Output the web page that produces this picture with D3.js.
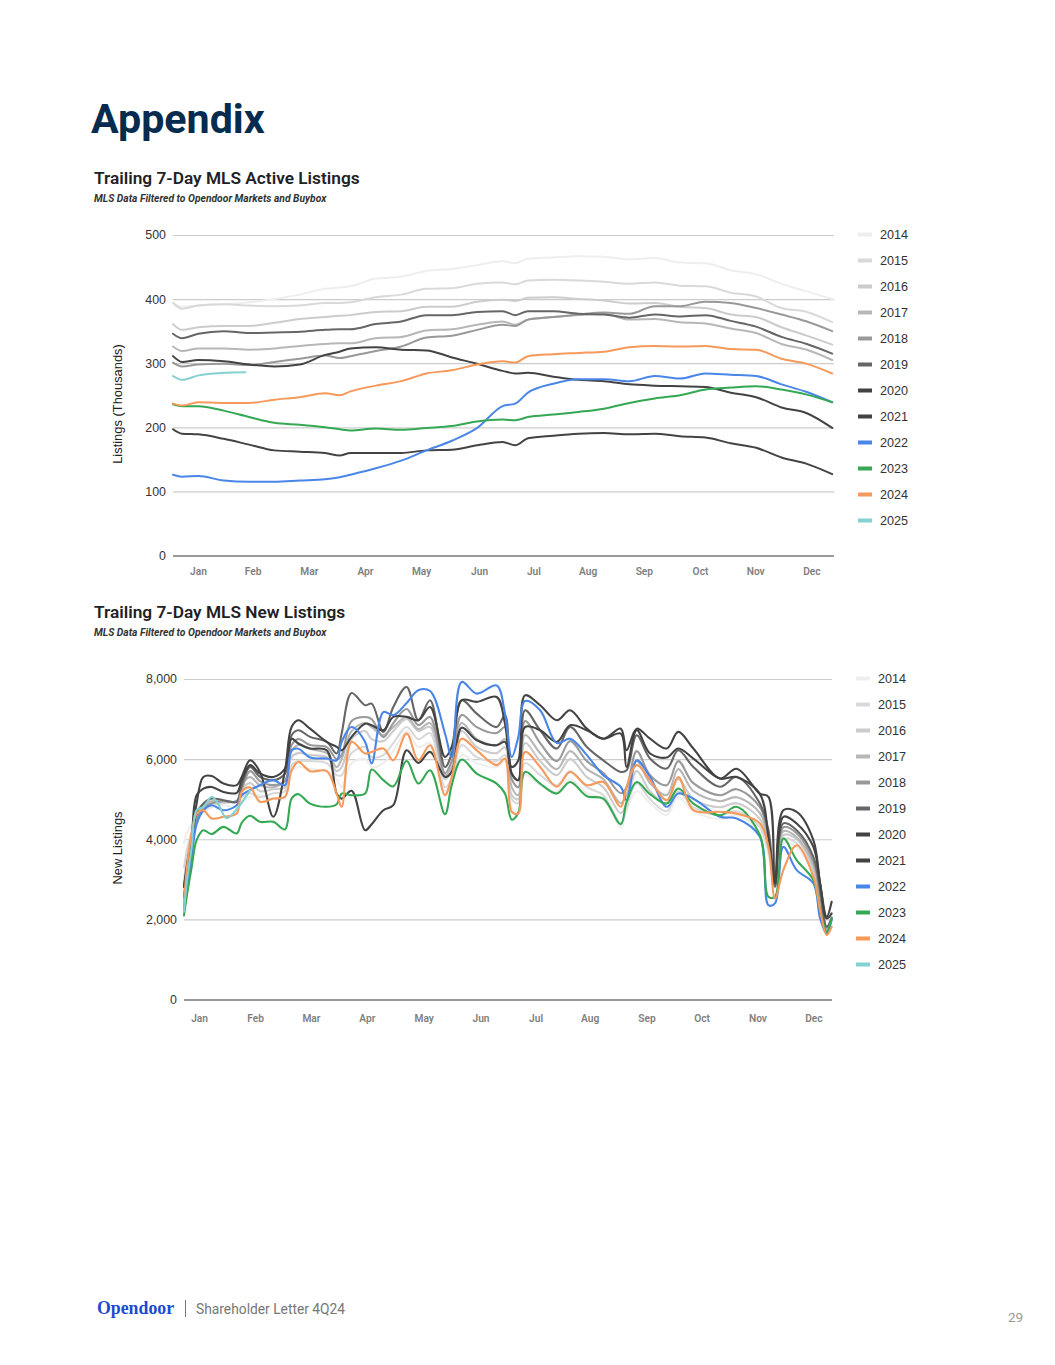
<!DOCTYPE html>
<html><head><meta charset="utf-8">
<script src="https://cdn.jsdelivr.net/npm/d3@7"></script>
<style>
html,body{margin:0;padding:0;background:#fff}
svg{display:block;font-family:Roboto,sans-serif}
</style></head><body>
<svg id="page" width="1055" height="1365"></svg>
<script>
const years = ["2014","2015","2016","2017","2018","2019","2020","2021","2022","2023","2024","2025"];
const yearColors = ["#eeeeee","#d9d9d9","#cccccc","#b7b7b7","#999999","#666666","#434343","#434343","#4a86e8","#34a853","#f6995a","#85d0d0"];
const monthLabels = ["Jan","Feb","Mar","Apr","May","Jun","Jul","Aug","Sep","Oct","Nov","Dec"];
const monthDays1 = [13.8,44,75,106,137,169,199,229,260,291,321.5,352.5];
const monthDays2 = [8.5,40,71.5,103,135,167,198,228.5,260.5,291.5,323,354.5];

const activeTicks = [0,100,200,300,400,500];
const newTicks = [0,2000,4000,6000,8000];

const activeDays = [0,5,14,28,42,56,70,84,92,98,112,126,140,154,168,182,189,196,210,224,238,252,266,280,294,308,322,336,350,364];
const active2014 = [394,388,390,392,395,400,407,416,418,420,432,435,444,447,453,459,456,463,465,467,466,462,464,457,456,445,439,424,412,400];
const active2015 = [394,385,390,392,390,389,390,394,394,395,403,407,416,417,424,426,423,429,430,429,427,424,426,421,420,410,404,386,380,364];
const active2016 = [361,352,356,358,358,363,369,372,374,375,380,381,388,388,396,399,397,402,403,400,398,393,394,388,386,376,372,356,343,329];
const active2017 = [326,319,323,323,321,323,327,330,331,331,339,341,351,353,360,365,360,368,372,375,377,368,369,364,362,354,347,330,321,305];
const active2018 = [301,295,298,299,297,302,307,312,308,311,319,326,340,343,352,360,358,368,372,376,379,377,389,389,396,394,386,376,365,350];
const active2019 = [346,339,346,350,347,348,349,352,353,353,361,365,375,375,380,381,375,381,381,377,376,371,376,373,375,366,357,341,330,315];
const active2020 = [311,302,305,303,298,295,298,313,318,323,325,321,320,309,299,288,284,285,279,274,272,267,265,264,263,254,247,231,222,199];
const active2021 = [197,190,189,182,173,164,162,160,156,160,160,160,164,165,172,177,172,183,187,190,191,189,190,186,184,175,168,153,143,127];
const active2022 = [126,123,124,117,115,115,117,119,122,126,136,148,164,179,199,233,237,254,268,275,275,272,280,276,284,282,280,267,255,239];
const active2023 = [236,233,233,226,216,207,204,200,197,195,198,196,199,202,209,212,211,216,220,224,229,238,245,250,259,262,264,259,251,239];
const active2024 = [237,234,239,238,238,243,247,253,250,256,265,272,284,289,298,303,301,311,314,316,318,325,327,326,327,322,321,307,299,284];
const active2025Days = [0,5,14,28,40];
const active2025 = [280,274,281,285,286];

const newDays = [0,1.5,4.3,7.1,10.9,15.6,22.2,29.7,32.5,37.2,
 42.8,50.3,56.9,60.6,64.4,71,80.4,86,88.8,94.4,
 102,105.7,112.3,117.9,125.4,132,138.6,147,150.8,156.4,
 164.9,176.1,180.8,184.6,188.3,192.1,200.6,210,217.5,226.9,
 236.2,246,249.3,255,262.5,271.9,278.4,286.9,301.9,311.3,
 324.4,329.2,332.9,337.6,345.1,354.5,358.3,362,364.8];
const new2014 = [3900,4150,4350,4500,4650,4800,4850,4800,4950,5050,5100,5000,5050,5700,5800,5750,5700,5500,5300,5900,6000,5800,5900,6200,6700,6300,6400,5200,5500,6100,5900,5800,5950,4800,4650,5600,5350,5200,5500,5150,5000,4300,4700,5200,4900,4600,5050,4700,4500,4600,4200,3600,2800,3900,3800,3100,2300,1700,2000];
const new2015 = [3300,3700,4200,4500,4700,4850,4900,4950,5050,5150,5050,5150,5200,5850,5950,5950,5900,5600,5600,6150,6300,6050,6100,6400,6800,6500,6650,5300,5500,6350,6050,5950,6100,5000,4900,5900,5600,5350,5700,5300,5100,4400,4800,5400,5000,4700,5200,4800,4600,4700,4300,3700,2900,4000,3900,3150,2400,1750,2050];
const new2016 = [2900,3500,4100,4550,4800,4900,4950,4950,5250,5400,5200,5250,5300,6050,6150,6100,6050,5700,5800,6500,6700,6500,6450,6700,7000,6700,6800,5500,5700,6700,6300,6150,6300,5100,5000,6400,5950,5600,6000,5550,5300,4650,4900,5700,5200,4900,5500,5000,4800,4900,4500,3800,2900,4100,4000,3250,2450,1750,2000];
const new2017 = [2600,3200,4000,4550,4850,4950,4950,4950,5350,5550,5350,5300,5450,6200,6350,6250,6150,5800,6000,6700,6900,6800,6600,6800,7050,6750,6900,5600,5800,6900,6500,6350,6500,5300,5100,6600,6150,5750,6200,5750,5500,4900,5100,5950,5400,5100,5750,5200,4950,5050,4650,3900,2900,4200,4050,3350,2500,1750,2000];
const new2018 = [2300,2900,3850,4500,4800,4900,4950,4950,5250,5700,5450,5350,5450,6350,6500,6350,6300,6000,6100,6950,7050,7000,6550,6900,7250,6850,7050,5650,5950,7100,6800,6650,6800,5500,5300,6950,6400,5950,6450,5950,5650,5150,5300,6200,5600,5350,5950,5400,5100,5250,4800,4050,2850,4300,4150,3450,2600,1800,2050];
const new2019 = [2550,3100,3895,4640,4890,5015,4975,4935,5350,5805,5555,5475,5640,6595,6720,6555,6430,6140,6640,7650,7345,7385,6680,7300,7800,6970,7470,5805,6140,7470,7135,6800,7095,5640,5475,7220,6720,6265,6800,6305,5970,5680,5720,6595,6015,5765,6220,5805,5310,5555,4890,4225,2815,4395,4225,3560,2730,1815,2025];
const new2020 = [2815,3310,4060,5100,5265,5305,5180,5160,5475,5850,5640,5555,5765,6510,6390,6265,6220,5140,5015,5210,4225,4375,4725,4850,6220,5905,6180,5555,5680,6785,6470,6345,6430,5640,5475,6800,6720,6430,6845,6720,6510,6635,5805,6720,6140,6040,6265,6015,5515,5555,5125,4060,2900,4560,4395,3810,2900,2025,2150];
const new2021 = [2815,3230,3980,4890,5555,5580,5390,5350,5555,5970,5680,4560,5720,6800,6970,6760,6430,6305,6220,6555,6885,6845,6720,7055,7055,6970,7300,6055,6305,7470,7430,7550,6885,5805,5970,7590,7345,6970,7220,6760,6510,6760,6220,6760,6510,6265,6680,6265,5515,5760,5140,5060,2900,4725,4685,3980,2900,2065,2440];
const new2022 = [2230,2730,3560,4375,4725,4850,4725,4850,5100,5225,5350,5475,5350,6220,6260,6040,6015,5970,6430,6800,6430,5890,7175,7095,7400,7720,7700,6640,6055,7925,7635,7840,7135,6055,6550,7450,7220,6400,6510,6100,5600,5310,4975,5970,5555,4810,5140,5015,4560,4520,4060,2355,2400,3810,3230,2900,2025,1650,1985];
const new2023 = [2100,2565,3300,3980,4225,4130,4310,4145,4410,4585,4435,4435,4245,5015,5125,4890,4810,4875,5140,5100,5140,5740,5475,5320,5955,5390,5720,4625,5350,5990,5640,5390,5140,4490,4660,5680,5390,5140,5430,5075,5015,4375,4930,5430,5125,4890,5265,4890,4600,4810,4100,2565,2565,4020,3480,2980,2230,1690,2025];
const new2024 = [2400,3230,4145,4640,4725,4520,4560,4640,5180,5290,4935,5015,5060,5720,5930,5700,5700,5140,4810,6430,6140,6180,6265,5970,6640,5970,6345,5100,5555,6510,6220,5850,6015,4685,4640,6180,5805,5310,5680,5350,5430,4810,5310,5850,5475,4975,5555,4725,4685,4640,4395,3810,2525,3230,3850,3065,2230,1610,1815];
const new2025Days = [0,1.5,4.3,7.1,10.9,15.6,19,24,29.7,37.2];
const new2025 = [2200,2900,3800,4725,4800,5060,4900,4525,4750,5220];

const activeSeries = [active2014,active2015,active2016,active2017,active2018,active2019,active2020,active2021,active2022,active2023,active2024,active2025];
const newSeries = [new2014,new2015,new2016,new2017,new2018,new2019,new2020,new2021,new2022,new2023,new2024,new2025];

const svg = d3.select("#page");
const ARIAL = "'Liberation Sans',Arial,sans-serif";

function label(x,y,txt,size,weight,color,extra){
  const t = svg.append("text").attr("x",x).attr("y",y).text(txt)
    .attr("font-size",size).attr("font-weight",weight).attr("fill",color);
  if(extra) extra(t);
  return t;
}

label(91,133,"Appendix",41.2,700,"#052c4f");

function drawChart(c){
  const x = d3.scaleLinear().domain([0,365]).range([c.left,c.right]);
  const y = d3.scaleLinear().domain(c.domain).range([c.bottom,c.top]);
  const g = svg.append("g");

  label(94,c.titleY,c.title,17.3,600,"#1f2224");
  label(94,c.titleY+17.5,"MLS Data Filtered to Opendoor Markets and Buybox",10.3,700,"#333",t=>t.attr("font-style","italic"));

  const yAxis = d3.axisLeft(y).tickValues(c.ticks).tickSize(c.left-c.right).tickPadding(7)
    .tickFormat(d3.format(","));
  const ya = g.append("g").attr("transform",`translate(${c.left},0)`).call(yAxis);
  ya.select(".domain").remove();
  ya.selectAll(".tick line").attr("stroke","#cccccc").attr("stroke-width",1.2);
  ya.selectAll(".tick text").style("font-family",ARIAL).attr("font-size",12.4).attr("fill","#333");
  ya.selectAll(".tick").filter(d=>d===0).select("line").attr("stroke","#333").attr("stroke-width",1.2);

  const xAxis = d3.axisBottom(x).tickValues(c.monthDays).tickSize(0).tickPadding(c.monthPad)
    .tickFormat((d,i)=>monthLabels[i]);
  const xa = g.append("g").attr("transform",`translate(0,${c.bottom})`).call(xAxis);
  xa.select(".domain").remove();
  xa.selectAll(".tick text").style("font-family","Roboto,sans-serif").attr("font-weight",600).attr("font-size",10.2).attr("fill","#808080");

  label(0,0,c.yTitle,12.9,400,"#222",t=>t.attr("text-anchor","middle")
    .style("font-family",ARIAL)
    .attr("transform",`translate(122,${c.yTitleY}) rotate(-90)`));

  c.series.forEach((vals,i)=>{
    const ds = i===11 ? c.lastDays : c.days;
    const line = d3.line().x((d,j)=>x(ds[j])).y(d=>y(d)).curve(c.curve);
    g.append("path").attr("d",line(vals)).attr("fill","none")
      .attr("stroke",yearColors[i]).attr("stroke-width",c.sw)
      .attr("stroke-linejoin","round").attr("stroke-linecap","round");
  });

  const lg = d3.scalePoint().domain(years).range([c.legendTop,c.legendTop+26*11]);
  years.forEach((yr,i)=>{
    svg.append("rect").attr("x",c.legendX).attr("y",lg(yr)-2).attr("width",14).attr("height",4)
      .attr("fill",yearColors[i]);
    svg.append("text").attr("x",c.legendX+22).attr("y",lg(yr)+4.6).text(yr)
      .style("font-family",ARIAL).attr("font-size",12.6).attr("fill","#333");
  });
}

drawChart({title:"Trailing 7-Day MLS Active Listings",titleY:184,yTitle:"Listings (Thousands)",yTitleY:404,
  left:173,right:834,top:235,bottom:555.5,domain:[0,500],ticks:activeTicks,monthDays:monthDays1,monthPad:12,
  days:activeDays,lastDays:active2025Days,series:activeSeries,sw:2,curve:d3.curveMonotoneX,legendX:858,legendTop:234.5});
drawChart({title:"Trailing 7-Day MLS New Listings",titleY:618,yTitle:"New Listings",yTitleY:848,
  left:184,right:832,top:679,bottom:999.5,domain:[0,8000],ticks:newTicks,monthDays:monthDays2,monthPad:15,
  days:newDays,lastDays:new2025Days,series:newSeries,sw:2.1,curve:d3.curveCatmullRom.alpha(0.5),legendX:856,legendTop:678.5});

// footer
label(97,1314,"Opendoor",17.8,700,"#1a4bd1",t=>t.style("font-family","'Liberation Serif',serif"));
svg.append("line").attr("x1",185.5).attr("x2",185.5).attr("y1",1300).attr("y2",1317).attr("stroke","#777").attr("stroke-width",1);
label(196,1314,"Shareholder Letter 4Q24",13.8,400,"#777");
label(1008,1322,"29",13.5,400,"#999");
</script>
</body></html>
